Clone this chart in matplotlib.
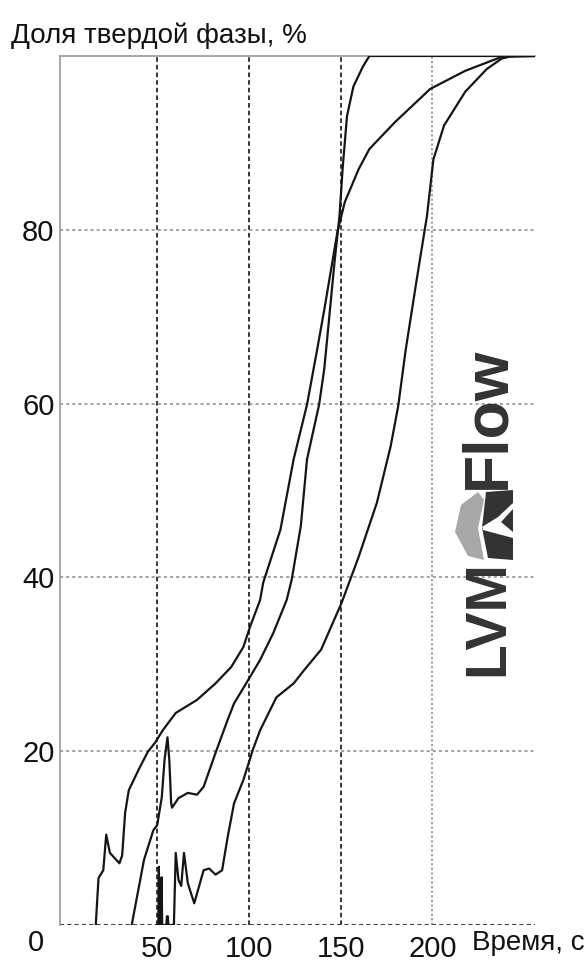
import matplotlib.pyplot as plt
from matplotlib.patches import Polygon

# curve data: time (s) and solid fraction (%)
t1 = [16.5, 18.0, 20.6, 22.2, 24.2, 29.4, 30.9, 32.5, 34.5, 39.7, 44.8, 48.9, 53.0,
      60.1, 71.7, 81.8, 90.4, 97.0, 100.6, 106.1, 107.8, 117.2, 124.4, 131.7, 137.2,
      141.1, 148.3, 152.3, 159.9, 165.7, 179.7, 198.8, 218.0, 237.8, 256]
f1 = [0, 5.4, 6.3, 10.4, 8.3, 7.1, 8.0, 12.9, 15.5, 17.8, 19.9, 21.0, 22.4,
      24.4, 25.9, 27.8, 29.7, 32.0, 34.3, 37.4, 39.4, 45.5, 53.6, 59.9, 66.2,
      70.8, 79.8, 83.2, 87.0, 89.3, 92.4, 96.2, 98.3, 99.9, 100]

t2 = [36.1, 42.8, 47.9, 50.0, 52.5, 54.0, 55.6, 56.6, 57.6, 58.1, 61.6, 66.7, 71.7,
      75.3, 81.8, 88.4, 91.9, 98.5, 106.1, 113.3, 120.6, 123.3, 128.3, 131.7, 138.3,
      141.1, 146.7, 149.4, 151.2, 153.5, 157.0, 162.2, 165.7, 256]
f2 = [0, 7.5, 10.9, 11.5, 14.7, 19.0, 21.6, 19.0, 14.0, 13.5, 14.6, 15.2, 15.0,
      15.9, 19.8, 23.6, 25.5, 27.8, 30.5, 33.6, 37.4, 39.7, 45.9, 53.6, 59.9,
      64.0, 76.3, 81.6, 87.3, 93.1, 96.5, 98.8, 100, 100]

t3 = [50.0, 50.6, 50.9, 51.2, 52.0, 52.4, 52.7, 55.0, 55.3, 55.8, 56.1, 59.1, 60.1,
      61.6, 63.1, 64.6, 66.7, 70.2, 75.3, 78.3, 81.8, 85.4, 88.4, 91.9, 97.0, 102.2,
      106.1, 115.0, 124.4, 130.0, 139.4, 150.6, 159.9, 169.8, 177.3, 181.4, 185.5,
      191.3, 197.1, 200.6, 206.4, 218.0, 229.7, 237.8, 243.6, 256]
f3 = [0, 0, 6.7, 0, 0, 5.5, 0, 0, 1.0, 1.0, 0, 0, 8.3,
      5.2, 4.5, 8.3, 4.8, 2.5, 6.3, 6.5, 5.8, 6.3, 10.1, 14.0, 16.7, 20.2,
      22.4, 26.2, 27.8, 29.3, 31.7, 37.1, 42.4, 48.6, 55.1, 59.7, 66.2,
      74.0, 81.6, 88.1, 92.0, 95.9, 98.5, 99.7, 100, 100]

x_ticks = [50, 100, 150, 200]
y_ticks = [20, 40, 60, 80]

plt.rcParams['font.family'] = ['Liberation Sans', 'DejaVu Sans']

fig = plt.figure(figsize=(5.85, 9.66), dpi=100)
ax = fig.add_axes([60 / 585, 41 / 966, 475 / 585, 869 / 966])

# grid
for x in x_ticks[:3]:
    ax.axvline(x, color='black', lw=1.1, ls=(0, (3, 2)), zorder=1)
ax.axvline(x_ticks[3], color='#888888', lw=1.1, ls=(0, (1.5, 1.5)), zorder=1)
for y in y_ticks:
    ax.axhline(y, color='#888888', lw=1.1, ls=(0, (2, 2)), zorder=1)
ax.axhline(0, color='#444444', lw=1.5, ls=(0, (2, 1.5)), zorder=1)

for t, f in [(t1, f1), (t2, f2), (t3, f3)]:
    ax.plot(t, f, color='#151515', lw=1.6, zorder=3)

ax.set_xlim(-3, 256)
ax.set_ylim(0, 100)
ax.set_xticks(x_ticks)
ax.set_yticks(y_ticks)
ax.tick_params(length=0, labelsize=21, colors='#111111')
ax.tick_params(axis='x', pad=7)
ax.tick_params(axis='y', pad=4)

ax.spines['right'].set_visible(False)
ax.spines['bottom'].set_visible(False)
ax.spines['left'].set_color('#999999')
ax.spines['top'].set_color('#999999')
ax.spines['left'].set_linewidth(1.2)
ax.spines['top'].set_linewidth(1.2)

fig.text(11 / 585, 1 - 36 / 966, 'Доля твердой фазы, %', fontsize=20,
         color='#111111', va='center', ha='left')
fig.text(36 / 585, 1 - 943 / 966, '0', fontsize=21, color='#111111',
         va='center', ha='center')
fig.text(472 / 585, 1 - 943 / 966, 'Время, с', fontsize=20, color='#111111',
         va='center', ha='left')

# logo
fig.text(488 / 585, 1 - 618 / 966, 'LVM', fontsize=41, fontweight='bold',
         color='#333333', rotation=90, ha='center', va='center')
fig.text(488 / 585, 1 - 418 / 966, 'Flow', fontsize=45, fontweight='bold',
         color='#333333', rotation=90, ha='center', va='center')


def fp(px, py):
    return (px / 585, 1 - py / 966)


fig.patches.append(Polygon([fp(455, 532), fp(461, 505), fp(478, 492), fp(484, 500),
                            fp(478, 528), fp(484, 560), fp(468, 556)], closed=True,
                           transform=fig.transFigure, facecolor='#a8a8a8',
                           edgecolor='none'))
fig.patches.append(Polygon([fp(486, 492), fp(513, 490), fp(513, 560), fp(488, 558),
                            fp(482, 528)], closed=True, transform=fig.transFigure,
                           facecolor='#333333', edgecolor='none'))
fig.patches.append(Polygon([fp(482, 527), fp(498, 517), fp(513, 503), fp(513, 509),
                            fp(501, 522), fp(513, 532), fp(513, 538), fp(483, 530)],
                           closed=True, transform=fig.transFigure,
                           facecolor='white', edgecolor='none'))

fig.savefig('out.png', dpi=100)
